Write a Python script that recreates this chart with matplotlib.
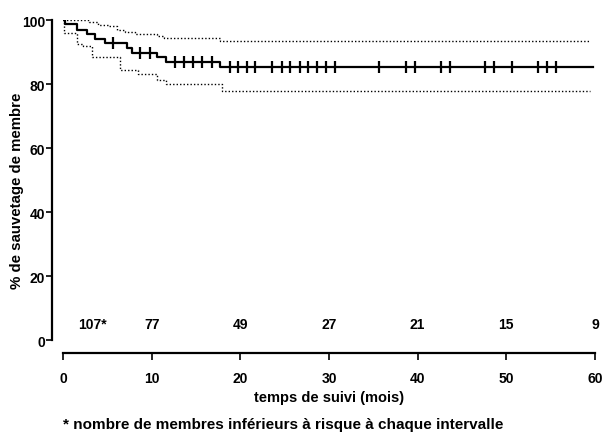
import numpy as np
import matplotlib
matplotlib.use("Agg")
import matplotlib.pyplot as plt

# Kaplan-Meier estimate (months, % limb salvage)
km_times = [0, 0.2, 1.6, 2.7, 3.6, 4.7, 7.2, 7.8, 10.6, 11.6, 17.7, 59.8]
km_values = [100, 98.7, 96.9, 95.6, 94.1, 92.8, 91.2, 89.7, 88.4, 86.9, 85.4, 85.4]

# confidence limits
upper_times = [0, 2.9, 3.9, 5.1, 6.1, 7.0, 8.1, 10.6, 11.4, 17.7, 59.4]
upper_values = [100, 99.4, 98.4, 98.0, 96.9, 96.2, 95.6, 95.0, 94.4, 93.5, 93.5]
lower_times = [0, 0.1, 1.6, 2.3, 3.3, 6.4, 8.5, 10.6, 11.6, 17.9, 59.4]
lower_values = [100, 96.0, 92.5, 92.0, 88.4, 84.3, 83.1, 81.3, 80.0, 77.9, 77.9]

# censored observations
censored = [5.6, 8.7, 9.8, 12.6, 13.6, 14.7, 15.7, 16.8, 18.8, 19.7, 20.7, 21.6,
            23.6, 24.7, 25.6, 26.7, 27.6, 28.6, 29.7, 30.7, 35.6, 38.7, 39.7,
            42.6, 43.6, 47.6, 48.6, 50.6, 53.6, 54.6, 55.6]

# number at risk
risk_months = [0, 10, 20, 30, 40, 50, 60]
risk_counts = ["107*", "77", "49", "27", "21", "15", "9"]

plt.rcParams['font.family'] = ['Liberation Sans', 'DejaVu Sans']

fig = plt.figure(figsize=(6.04, 4.39), dpi=100)
ax = fig.add_axes([0.1043, 0.2232, 0.8808, 0.7289])

ax.step(upper_times, upper_values, where='post', color='black',
        lw=1.0, ls=(0, (1, 1.5)))
ax.step(lower_times, lower_values, where='post', color='black',
        lw=1.0, ls=(0, (1, 1.5)))
ax.step(km_times, km_values, where='post', color='black', lw=1.6)

idx = np.searchsorted(km_times, censored, side='right') - 1
cens_y = np.array(km_values)[idx]
ax.plot(censored, cens_y, ls='none', marker='|', ms=9, mew=1.6, color='black')

for t, n in zip(risk_months, risk_counts):
    xpos = t + 3.3 if t == 0 else t
    ax.text(xpos, 5, n, ha='center', va='center', fontsize=10, fontweight='bold')

ax.set_xlim(0, 60)
ax.set_ylim(0, 100)
ax.set_xticks(range(0, 61, 10))
ax.set_yticks(range(0, 101, 20))

for s in ['top', 'right']:
    ax.spines[s].set_visible(False)
ax.spines['left'].set_position(('outward', 8))
ax.spines['bottom'].set_position(('outward', 9))
ax.spines['left'].set_linewidth(1.6)
ax.spines['bottom'].set_linewidth(1.6)

ax.tick_params(axis='y', direction='out', length=4, width=1.2, labelsize=10, pad=1)
ax.tick_params(axis='x', direction='out', length=5, width=1.2, labelsize=10, pad=8)
for lab in ax.get_xticklabels() + ax.get_yticklabels():
    lab.set_fontweight('bold')

ax.set_ylabel("% de sauvetage de membre", fontsize=10.8, fontweight='bold')
ax.yaxis.set_label_coords(-0.073, 0.47)
ax.set_xlabel("temps de suivi (mois)", fontsize=10.5, fontweight='bold', labelpad=4)

fig.text(63 / 604, 1 - 425 / 439,
         "* nombre de membres inférieurs à risque à chaque intervalle",
         ha='left', va='center', fontsize=11, fontweight='bold')

fig.savefig("out.png", dpi=100)
